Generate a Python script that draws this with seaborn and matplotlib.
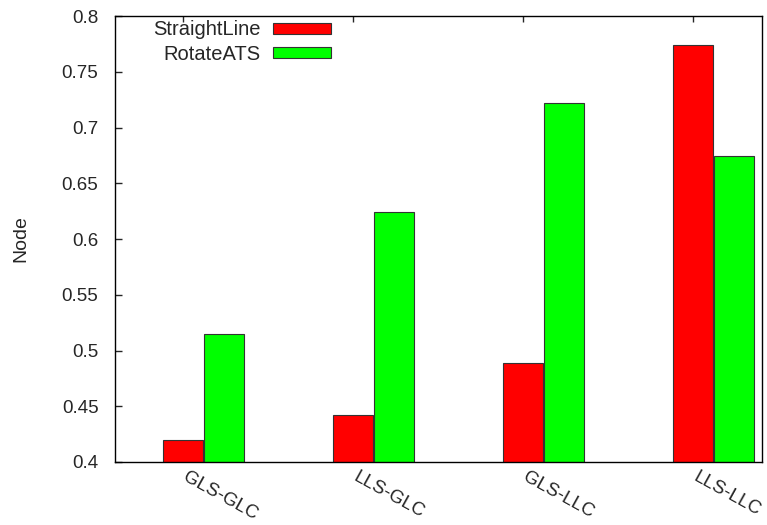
import matplotlib
matplotlib.use("Agg")
import numpy as np
import pandas as pd
import seaborn as sns
import matplotlib.pyplot as plt
from matplotlib import transforms

categories = ["GLS-GLC", "LLS-GLC", "GLS-LLC", "LLS-LLC"]
series = ["StraightLine", "RotateATS"]
straight_line = [0.420, 0.442, 0.489, 0.774]
rotate_ats = [0.515, 0.624, 0.722, 0.674]
colors = ["#ff0000", "#00ff00"]
ytick_values = [0.4, 0.45, 0.5, 0.55, 0.6, 0.65, 0.7, 0.75, 0.8]
ytick_labels = ["0.4", "0.45", "0.5", "0.55", "0.6", "0.65", "0.7", "0.75", "0.8"]

df = pd.DataFrame({
    "case": categories * 2,
    "method": [series[0]] * len(categories) + [series[1]] * len(categories),
    "value": straight_line + rotate_ats,
})

sns.set_style("white")
plt.rcParams["font.family"] = ["Liberation Sans", "DejaVu Sans"]

fig = plt.figure(figsize=(7.67, 5.25), dpi=100)
ax = fig.add_axes([0.15, 0.12, 0.843, 0.8495])

sns.barplot(data=df, x="case", y="value", hue="method", palette=colors,
            width=0.48, gap=0.02, saturation=1, edgecolor="#333333",
            linewidth=0.8, ax=ax)

ax.set_ylim(0.4, 0.8)
ax.set_xlim(-0.52, 3.284)
ax.set_yticks(ytick_values)
ax.set_yticklabels(ytick_labels)
ax.set_xticks(np.arange(len(categories)) - 0.12)
ax.set_xticklabels(categories)
ax.set_axisbelow(True)

for s in ax.spines.values():
    s.set_color("black")
    s.set_linewidth(1.0)

ax.tick_params(axis="y", direction="in", length=5, width=1, left=True,
               right=False, labelsize=13.5, pad=12)
ax.tick_params(axis="x", direction="in", length=4, width=1, bottom=True,
               top=True, labelsize=13.5, pad=5)
# nudge the rotated labels a little to the right, like gnuplot does
shift = transforms.ScaledTranslation(4 / 72, 0, fig.dpi_scale_trans)
for lbl in ax.get_xticklabels():
    lbl.set_rotation(-29)
    lbl.set_ha("left")
    lbl.set_va("top")
    lbl.set_rotation_mode("anchor")
    lbl.set_transform(lbl.get_transform() + shift)

ax.set_xlabel("")
ax.set_ylabel("Node", fontsize=14, labelpad=23)

leg = ax.legend(loc="upper right", bbox_to_anchor=(0.334, 0.99),
                markerfirst=False, frameon=False, fontsize=14.5,
                handlelength=2.9, handleheight=0.5, handletextpad=0.6,
                labelspacing=0.25, borderpad=0, borderaxespad=0)
for col in leg._legend_handle_box.get_children():
    col.align = "right"

fig.savefig("out.png", dpi=100)
